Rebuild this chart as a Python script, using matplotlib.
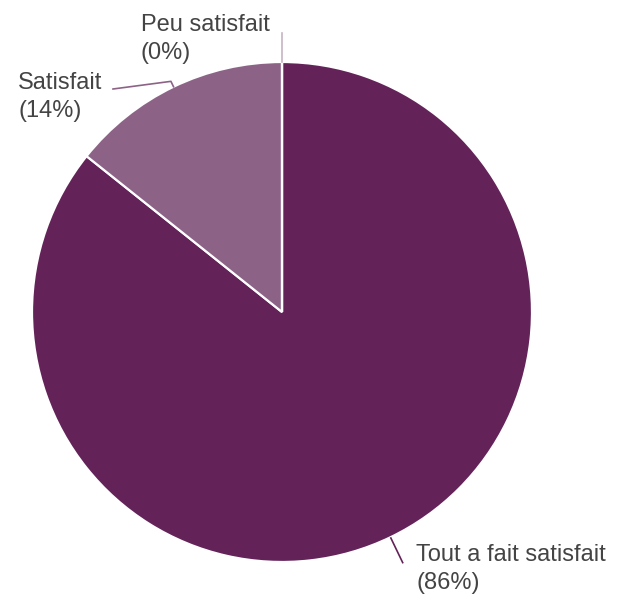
import numpy as np
import matplotlib.pyplot as plt

# answer counts, drawn clockwise from 12 o'clock
labels = ['Tout a fait satisfait', 'Satisfait', 'Peu satisfait']
counts = [6, 1, 0]
colors = ['#632359', '#8c6387', '#c7b3c3']

W, H = 617, 604
fig = plt.figure(figsize=(W / 100, H / 100), dpi=100)
ax = fig.add_axes([0, 0, 1, 1])

cx, cy, r = 282, 312, 250

total = sum(counts)
fracs = [c / total for c in counts]

# pie in pixel space (y axis flipped, so counterclock=True turns clockwise on screen)
ax.pie(counts, colors=colors, startangle=-90, counterclock=True,
       center=(cx, cy), radius=r, frame=True,
       wedgeprops=dict(edgecolor='white', linewidth=1.6))
ax.set_xlim(0, W)
ax.set_ylim(H, 0)
ax.set_aspect('equal')
ax.axis('off')

plt.rcParams['font.family'] = ['Liberation Sans', 'DejaVu Sans']
# va='baseline' puts the last line on y
txt = dict(fontsize=17, color='#444444', va='baseline', ha='left', linespacing=1.38)


def edge_point(mid_frac, dist):
    # angle measured clockwise from the top of the pie
    a = 2 * np.pi * mid_frac
    return cx + dist * np.sin(a), cy - dist * np.cos(a)


starts = np.concatenate([[0], np.cumsum(fracs)[:-1]])
mids = starts + np.array(fracs) / 2

# Tout a fait satisfait
x0, y0 = edge_point(mids[0], r)
x1, y1 = edge_point(mids[0], r + 29)
ax.plot([x0, x1], [y0, y1], color=colors[0], lw=1.2, solid_capstyle='butt')
ax.text(416, 589, f'{labels[0]}\n({fracs[0]*100:.0f}%)', **txt)

# Satisfait
x0, y0 = edge_point(mids[1], r)
x1, y1 = edge_point(mids[1], r + 6)
ax.plot([x0, x1, 113], [y0, y1, 89], color=colors[1], lw=1.2)
ax.text(18, 117, f'{labels[1]}\n({fracs[1]*100:.0f}%)', **txt)

# Peu satisfait
x0, y0 = edge_point(mids[2], r)
x1, y1 = edge_point(mids[2], r + 29)
ax.plot([x0, x1], [y0, y1], color=colors[2], lw=1.2)
ax.text(141, 59, f'{labels[2]}\n({fracs[2]*100:.0f}%)', **txt)

fig.savefig('out.png', dpi=100, facecolor='white')
